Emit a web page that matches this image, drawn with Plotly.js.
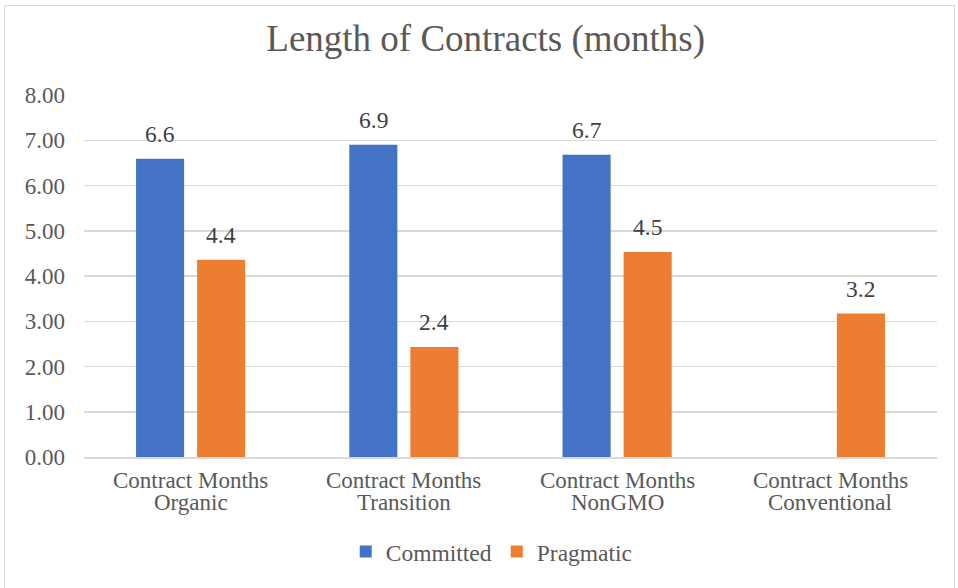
<!DOCTYPE html>
<html>
<head>
<meta charset="utf-8">
<script src="https://cdn.plot.ly/plotly-3.0.1.min.js"></script>
<style>
html,body{margin:0;padding:0;background:#fff;}
#frame{position:absolute;left:4px;top:5px;width:951px;height:590px;border:1px solid #d9d9d9;box-sizing:border-box;pointer-events:none;}
#chart{position:absolute;left:0;top:0;width:958px;height:588px;}
</style>
</head>
<body>
<div id="chart"></div>
<div id="frame"></div>
<script>
const categories = [
  "Contract Months<br>Organic",
  "Contract Months<br>Transition",
  "Contract Months<br>NonGMO",
  "Contract Months<br>Conventional"
];
const committed = [6.59, 6.90, 6.68, null];
const pragmatic = [4.36, 2.43, 4.53, 3.17];
const seriesNames = ["Committed", "Pragmatic"];
const yTicks = [0, 1, 2, 3, 4, 5, 6, 7, 8];

const serif = "Liberation Serif, Times New Roman, serif";
const W = 958, H = 588;
const margin = {l: 84, r: 21, t: 95, b: 131};
const bargap = 0.427, bargroupgap = 0.213;

const traces = [
  {type: "bar", name: seriesNames[0], x: categories, y: committed, marker: {color: "#4472C4"}, hoverinfo: "skip"},
  {type: "bar", name: seriesNames[1], x: categories, y: pragmatic, marker: {color: "#ED7D31"}, hoverinfo: "skip"}
];

// slot offset of each bar inside its group (pixels)
const catW = (W - margin.l - margin.r) / categories.length;
const slot = catW * (1 - bargap) / 2;
const annotations = [];
[committed, pragmatic].forEach((vals, s) => {
  vals.forEach((v, i) => {
    if (v === null) return;
    annotations.push({
      x: categories[i], y: v, xref: "x", yref: "y",
      text: v.toFixed(1), showarrow: false,
      xshift: (s === 0 ? -1 : 1) * slot / 2, yshift: 10, yanchor: "bottom",
      font: {family: serif, size: 23.5, color: "#404040"}
    });
  });
});
categories.forEach((c) => {
  c.split("<br>").forEach((line, k) => {
    annotations.push({
      x: c, y: 0, xref: "x", yref: "paper", text: line, showarrow: false,
      yanchor: "top", yshift: -9 - 22 * k,
      font: {family: serif, size: 23, color: "#595959"}
    });
  });
});

const layout = {
  width: W, height: H, margin: margin,
  paper_bgcolor: "rgba(0,0,0,0)", plot_bgcolor: "#fff",
  font: {family: serif, color: "#595959", size: 18},
  title: {text: "Length of Contracts (months)", font: {family: serif, size: 37, color: "#595959"},
          xref: "container", x: 0.507, xanchor: "center", yref: "container", y: 0.9345, yanchor: "middle"},
  barmode: "group", bargap: bargap, bargroupgap: bargroupgap,
  xaxis: {
    type: "category", showline: true, linecolor: "#d9d9d9", linewidth: 1.5,
    ticks: "", showticklabels: false, showgrid: false
  },
  yaxis: {
    range: [0, 8], tickvals: yTicks, tickformat: ".2f",
    showgrid: true, gridcolor: "#d9d9d9", gridwidth: 1.5, zeroline: false,
    showline: false, ticks: "", ticklabelstandoff: 18,
    tickfont: {family: serif, size: 23, color: "#595959"}
  },
  annotations: annotations,
  showlegend: true,
  legend: {orientation: "h", x: 0.478, xanchor: "center", y: -0.262, yanchor: "middle",
           font: {family: serif, size: 23.5, color: "#595959"}, itemwidth: 30, traceorder: "normal"}
};

Plotly.newPlot("chart", traces, layout, {displayModeBar: false, staticPlot: true});
</script>
</body>
</html>
